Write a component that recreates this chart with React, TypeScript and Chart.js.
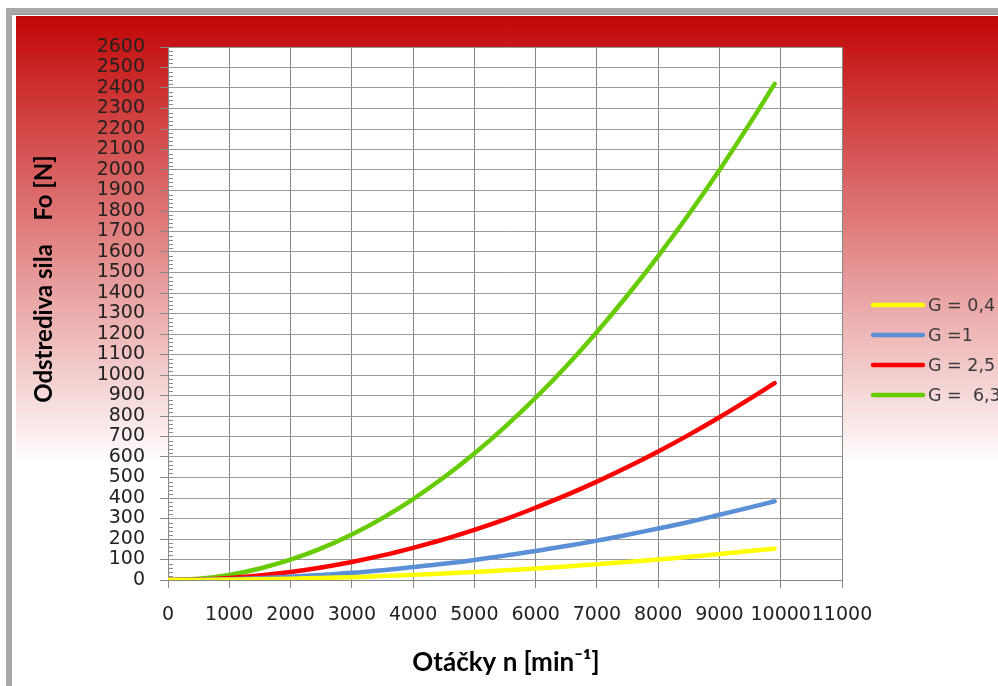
import React, { useEffect, useRef } from "react";
import { Chart, registerables } from "chart.js";

Chart.register(...registerables);

// Rotational speed n [min^-1]
const rpm = [0, 500, 1000, 1500, 2000, 2500, 3000, 3500, 4000, 4500, 5000, 5500, 6000, 6500, 7000, 7500, 8000, 8500, 9000, 9500, 9900];
// Centrifugal force Fo [N] for each G
const forceG04 = [0, 0.4, 1.6, 3.5, 6.3, 9.8, 14, 19, 25, 32, 39, 47, 56, 66, 77, 88, 100, 113, 127, 142, 153];
const forceG1 = [0, 1, 4, 9, 16, 25, 35, 48, 63, 79, 98, 119, 141, 166, 192, 221, 251, 283, 318, 354, 384];
const forceG25 = [0, 2.5, 10, 22, 39, 61, 88, 120, 157, 198, 245, 296, 353, 414, 480, 551, 627, 708, 794, 885, 960];
const forceG63 = [0, 6, 25, 56, 99, 154, 222, 302, 395, 500, 617, 747, 889, 1043, 1210, 1389, 1580, 1784, 2000, 2229, 2420];

const seriesLabels = ["G = 0,4", "G =1", "G = 2,5", "G =  6,3"];
const seriesColors = ["#ffff00", "#5b8fd6", "#ff0000", "#66cc00"];
const seriesValues = [forceG04, forceG1, forceG25, forceG63];

const xMin = 0;
const xMax = 11000;
const xStep = 1000;
const yMin = 0;
const yMax = 2600;
const yStep = 100;
const yMinorStep = 20;

const xTitle = "Otáčky n [min⁻¹]";
const yTitle = "Odstrediva sila    Fo [N]";

const FONT = "'DejaVu Sans', sans-serif";
const X_TITLE_FONT = "bold 26px Lato, 'Open Sans', sans-serif";
const Y_TITLE_FONT = "bold 24px Lato, 'Open Sans', sans-serif";

export default function App() {
  const canvasRef = useRef<HTMLCanvasElement | null>(null);

  useEffect(() => {
    const canvas = canvasRef.current;
    if (!canvas) return;

    const plotBackground = {
      id: "plotBackground",
      beforeDraw(chart: any) {
        const { ctx, chartArea } = chart;
        ctx.save();
        ctx.fillStyle = "#ffffff";
        ctx.fillRect(chartArea.left, chartArea.top, chartArea.right - chartArea.left, chartArea.bottom - chartArea.top);
        ctx.restore();
      },
    };

    const minorTicks = {
      id: "minorTicks",
      beforeDatasetsDraw(chart: any) {
        const { ctx, scales } = chart;
        const y = scales.y;
        const left = chart.chartArea.left;
        ctx.save();
        ctx.strokeStyle = "#8a8a8a";
        ctx.lineWidth = 1;
        for (let v = yMin; v <= yMax; v += yMinorStep) {
          if (v % yStep === 0) continue;
          const py = Math.round(y.getPixelForValue(v)) + 0.5;
          ctx.beginPath();
          ctx.moveTo(left, py);
          ctx.lineTo(left + 5, py);
          ctx.stroke();
        }
        ctx.restore();
      },
    };

    const extras = {
      id: "extras",
      afterDraw(chart: any) {
        const { ctx } = chart;
        ctx.save();
        // legend
        const lx = 857;
        let ly = 289;
        ctx.font = "17.5px " + FONT;
        ctx.textBaseline = "middle";
        ctx.textAlign = "left";
        chart.data.datasets.forEach((ds: any) => {
          ctx.strokeStyle = ds.borderColor;
          ctx.lineWidth = 4.5;
          ctx.lineCap = "round";
          ctx.beginPath();
          ctx.moveTo(lx, ly);
          ctx.lineTo(lx + 50, ly);
          ctx.stroke();
          ctx.fillStyle = "#3a3a3a";
          ctx.fillText(ds.label, lx + 55, ly + 1);
          ly += 30;
        });
        // axis titles
        ctx.fillStyle = "#000";
        ctx.textAlign = "center";
        ctx.textBaseline = "middle";
        ctx.font = X_TITLE_FONT;
        ctx.fillText(xTitle, 490, 647);
        ctx.font = Y_TITLE_FONT;
        ctx.translate(28, 263);
        ctx.rotate(-Math.PI / 2);
        ctx.fillText(yTitle, 0, 0);
        ctx.restore();
      },
    };

    const chart = new Chart(canvas, {
      type: "line",
      data: {
        datasets: seriesValues.map((vals, i) => ({
          label: seriesLabels[i],
          data: rpm.map((n, k) => ({ x: n, y: vals[k] })),
          borderColor: seriesColors[i],
          backgroundColor: seriesColors[i],
          borderWidth: 4.5,
          borderCapStyle: "round",
          pointRadius: 0,
          tension: 0.4,
          fill: false,
        })),
      },
      options: {
        animation: false,
        responsive: false,
        maintainAspectRatio: false,
        layout: { padding: { top: 31, right: 156, left: 0, bottom: 0 } },
        plugins: {
          legend: { display: false },
          tooltip: { enabled: false },
        },
        scales: {
          x: {
            type: "linear",
            min: xMin,
            max: xMax,
            afterFit: (s: any) => {
              s.height = 106;
            },
            ticks: {
              stepSize: xStep,
              autoSkip: false,
              maxRotation: 0,
              padding: 16,
              color: "#222",
              font: { family: FONT, size: 19 },
              callback: (v: any) => String(v),
            },
            grid: { color: "#888888", tickColor: "#888888", tickLength: 8, lineWidth: 1 },
            border: { color: "#888888" },
          },
          y: {
            type: "linear",
            min: yMin,
            max: yMax,
            afterFit: (s: any) => {
              s.width = 152;
            },
            ticks: {
              stepSize: yStep,
              autoSkip: false,
              padding: 15,
              color: "#222",
              font: { family: FONT, size: 19 },
              callback: (v: any) => String(v),
            },
            grid: { color: "#999999", tickColor: "#888888", tickLength: 8, lineWidth: 1 },
            border: { color: "#888888" },
          },
        },
      },
      plugins: [plotBackground, minorTicks, extras],
    });

    return () => chart.destroy();
  }, []);

  return (
    <div style={{ position: "fixed", left: 0, top: 0, width: 998, height: 686, background: "#fff", overflow: "hidden" }}>
      <div style={{ position: "absolute", left: 6, top: 8, width: 992, height: 6, background: "#a8a8a8", borderBottom: "1px solid #959595" }} />
      <div style={{ position: "absolute", left: 6, top: 8, width: 6, height: 678, background: "#a8a8a8" }} />
      <div
        style={{
          position: "absolute",
          left: 16,
          top: 16,
          width: 982,
          height: 670,
          background: "linear-gradient(to bottom, #c20606 0px, #d24545 110px, #e9a3a3 280px, #ffffff 450px, #ffffff 670px)",
        }}
      >
        <canvas ref={canvasRef} width={982} height={670} style={{ display: "block", width: 982, height: 670 }} />
      </div>
    </div>
  );
}
